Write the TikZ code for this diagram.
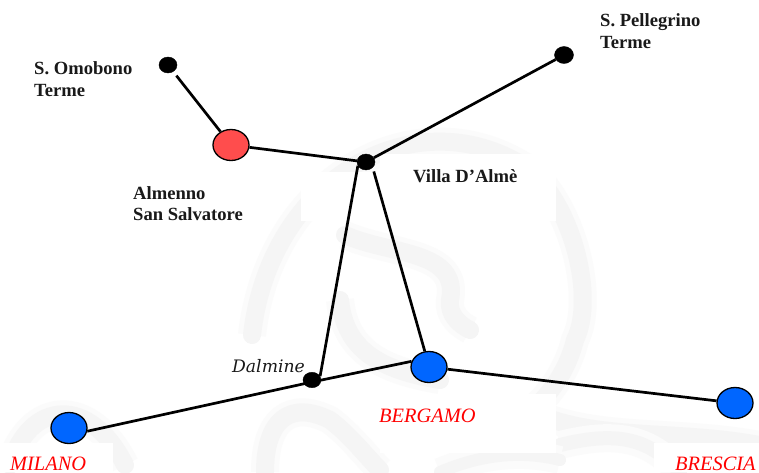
\documentclass[tikz,border=0pt]{standalone}
\usepackage{fontspec}
\setmainfont{Liberation Serif}
\newfontfamily\dalfont{DejaVu Serif}
\usetikzlibrary{shapes.geometric}
\definecolor{tred}{HTML}{FF4D4D}
\definecolor{tblue}{HTML}{0066FF}
\definecolor{wm}{HTML}{F5F5F5}
\definecolor{wmsoft}{HTML}{FBFBFB}
\tikzset{
  smalldot/.style={ellipse,fill=black,draw=black,inner sep=0pt,minimum width=18pt,minimum height=16pt},
  bigred/.style={ellipse,fill=tred,draw=black,line width=1.3pt,inner sep=0pt,minimum width=36pt,minimum height=31pt},
  bigblue/.style={ellipse,fill=tblue,draw=black,line width=1.3pt,inner sep=0pt,minimum width=36pt,minimum height=31pt},
  road/.style={draw=black,line width=2.7pt},
  place/.style={font=\bfseries\fontsize{18.6}{21.5}\selectfont,align=left,anchor=north west,inner sep=0pt,text=black!90},
  town/.style={font=\dalfont\itshape\fontsize{17.2}{20}\selectfont,anchor=base west,inner sep=0pt,text=black!90},
  city/.style={font=\itshape\fontsize{20.4}{22}\selectfont,anchor=base west,inner sep=0pt,text=red},
  wmstroke/.style={draw=wm,line width=18pt,line cap=round,line join=round,
    preaction={draw=wmsoft,line width=28pt}},
  hole/.style={fill=white,draw=none}
}
\begin{document}
\begin{tikzpicture}[x=1pt,y=-1pt]
\useasboundingbox (0,0) rectangle (759,472);
\fill[white] (0,0) rectangle (759,472);
% faint emblem in the background
\draw[wmstroke] (252,335) .. controls (270,175) and (420,95) .. (530,170) .. controls (575,210) and (595,300) .. (575,340) .. controls (565,380) and (540,405) .. (520,420);
\draw[wmstroke] (345,235) .. controls (390,255) and (460,250) .. (450,300) .. controls (448,315) and (460,325) .. (470,330);
\draw[wmstroke] (340,300) .. controls (345,350) and (380,370) .. (440,380);
\draw[wmstroke] (540,415) .. controls (600,440) and (680,430) .. (759,445);
\draw[wmstroke] (10,465) .. controls (30,400) and (90,395) .. (125,465);
\draw[wmstroke] (265,472) .. controls (265,420) and (290,400) .. (330,420) .. controls (350,435) and (365,455) .. (380,470);
\draw[wmstroke,line width=14pt] (560,445) .. controls (620,430) and (650,440) .. (680,472);
\draw[wmstroke,line width=12pt] (440,472) .. controls (480,455) and (520,450) .. (560,460);
% white patches behind the labels
\fill[hole] (301,172) rectangle (395,221);
\fill[hole] (380,154) rectangle (556,221);
\fill[hole] (380,394) rectangle (556,453);
\fill[hole] (654,443) rectangle (759,472);
\fill[hole] (0,443) rectangle (113,472);
\fill[hole] (233,345) rectangle (315,395);
% places
\node[smalldot] (omobono) at (168,65) {};
\node[bigred] (almenno) at (231,145) {};
\node[smalldot] (villa) at (366,162) {};
\node[smalldot,minimum width=19pt,minimum height=17pt] (pellegrino) at (564,55) {};
\node[smalldot,minimum height=15.5pt] (dalmine) at (312,380) {};
\node[bigblue] (bergamo) at (429,367) {};
\node[bigblue] (milano) at (69,428) {};
\node[bigblue] (brescia) at (735,403) {};
% roads
\draw[road,shorten <=5pt] (omobono) -- (almenno);
\draw[road] (almenno) -- (villa);
\draw[road] (villa) -- (pellegrino);
\draw[road] (villa.205) -- (dalmine.25);
\draw[road,shorten <=4pt] (villa.320) -- (bergamo.105);
\draw[road] (milano.350) -- ([yshift=-2pt]dalmine.center);
\draw[road] ([yshift=-2pt]dalmine.center) -- (bergamo.162);
\draw[road] (bergamo) -- (brescia);
% labels
\node[place] (t1) at (34,61.5) {S. Omobono\\Terme};
\node[place] (t2) at (133,186) {Almenno\\San Salvatore};
\node[place] (t3) at (413,169) {Villa D’Almè};
\node[place] (t4) at (600,13.5) {S. Pellegrino\\Terme};
\node[town] (t5) at (232,372) {Dalmine};
\node[city] (t6) at (379,422) {BERGAMO};
\node[city] (t7) at (10,470) {MILANO};
\node[city] (t8) at (675,470) {BRESCIA};
\end{tikzpicture}
\end{document}
